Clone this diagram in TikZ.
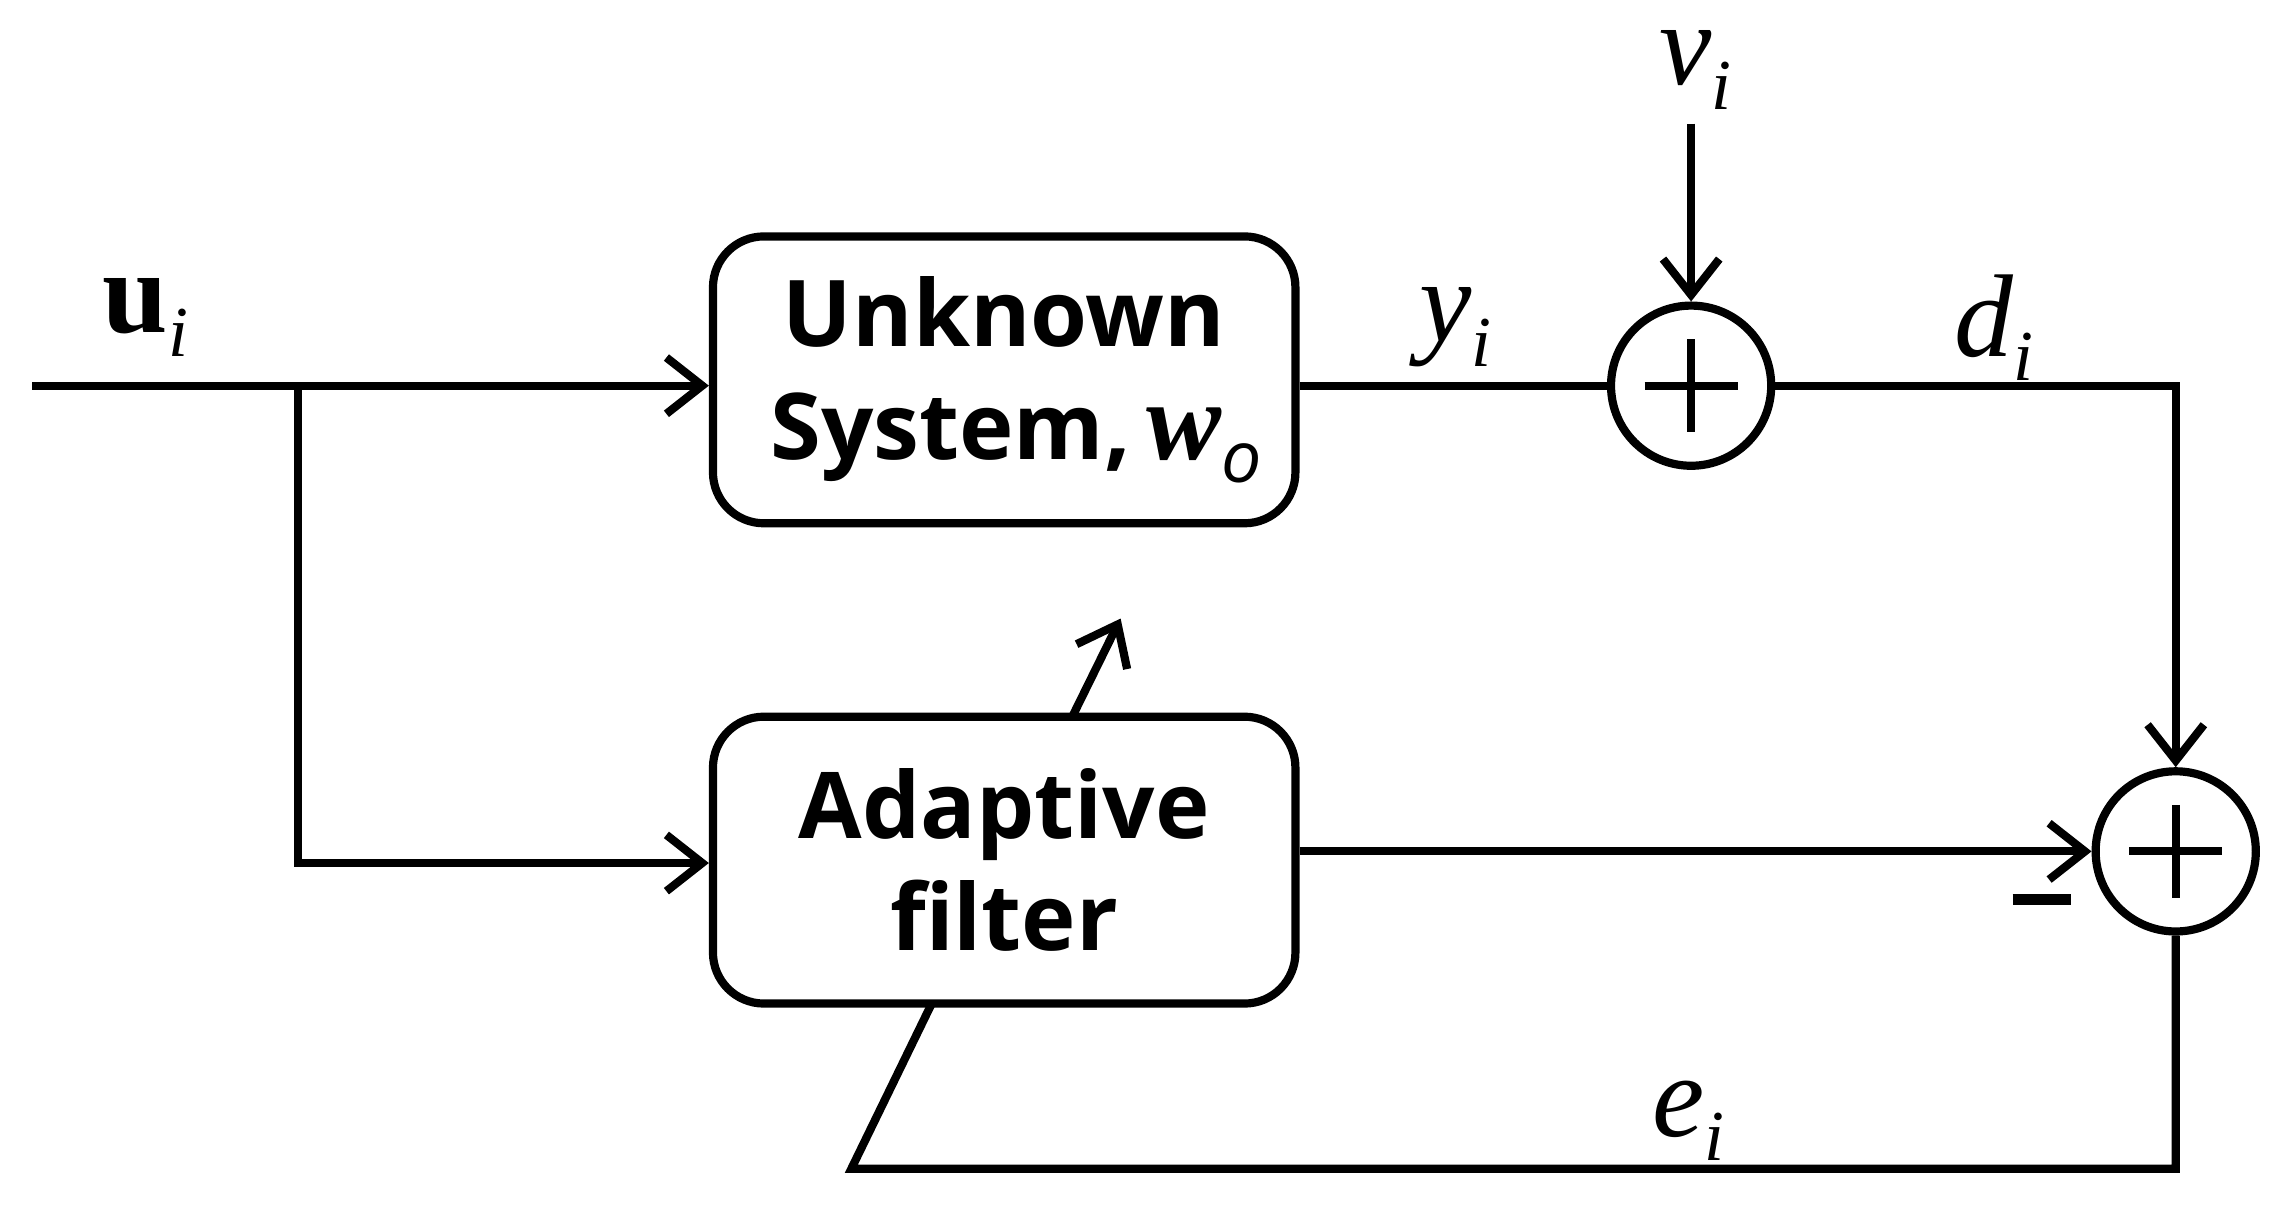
\documentclass[tikz,border=0pt]{standalone}
\usepackage{fontspec}
\setmainfont{Liberation Serif}
\newfontfamily\boxfont{Open Sans}
\usetikzlibrary{arrows.meta}
\newcommand{\mysub}[1]{\raisebox{-0.45ex}{\fontsize{14}{14}\selectfont\mdseries\itshape #1}}
\begin{document}
\begin{tikzpicture}[x=0.01cm,y=-0.01cm,line width=1.6pt,
  blk/.style={draw,rounded corners=0.35cm,minimum width=4cm,minimum height=1.97cm,inner xsep=2pt,font=\boxfont\bfseries\fontsize{18}{22}\selectfont,align=center},
  sum/.style={draw,circle,minimum size=1.1cm,inner sep=0pt},
  lab/.style={font=\fontsize{23}{24}\selectfont\itshape},
  arr/.style={-{Straight Barb[length=7pt,width=11pt,line width=1.6pt]}}]
\useasboundingbox (0,0) rectangle (1568,830);
\node[blk] (unk) at (690,261) {Unknown\\ \ System,\,{\rmfamily\itshape\bfseries\fontsize{22}{22}\selectfont w}\mysub{o}};
\node[blk] (ada) at (690,591) {Adaptive\\filter};
\node[sum] (s1) at (1162,265) {};
\node[sum] (s2) at (1495,585) {};
\foreach \s in {s1,s2}{
  \draw (\s.center)++(-32,0) -- ++(64,0);
  \draw (\s.center)++(0,-32) -- ++(0,64);}
\coordinate (in) at (22,265);
\coordinate (br) at (205,265);
\coordinate (brd) at (205,593);
\coordinate (vtop) at (1162,85);
\coordinate (dc) at (1495,265);
\coordinate (ec) at (1495,803);
\coordinate (el) at (585,803);
\coordinate (eb) at (640,690);
\coordinate (a1) at (737,492);
\coordinate (a2) at (770,425);
\draw[arr] (in) -- (unk.west|-in);
\draw[arr] (br) -- (brd) -- (ada.west|-brd);
\draw (unk.east|-s1) -- (s1.west);
\draw[arr] (vtop) -- (s1.north);
\draw[arr] (s1.east) -- (dc) -- (s2.north);
\draw[arr] (ada.east|-s2) -- (s2.west);
\draw (s2.south) -- (ec) -- (el) -- (eb);
\draw[arr] (a1) -- (a2);
\node[font=\bfseries\fontsize{23}{24}\selectfont] (u) at (100,218) {u\mysub{i}};
\node[lab] (y) at (1000,225) {y\mysub{i}};
\node[lab] (v) at (1165,48) {v\mysub{i}};
\node[lab] (d) at (1370,225) {d\mysub{i}};
\node[lab] (e) at (1160,770) {e\mysub{i}};
\node (m) at (1403,618) {\rule{0.4cm}{0.08cm}};
\end{tikzpicture}
\end{document}
